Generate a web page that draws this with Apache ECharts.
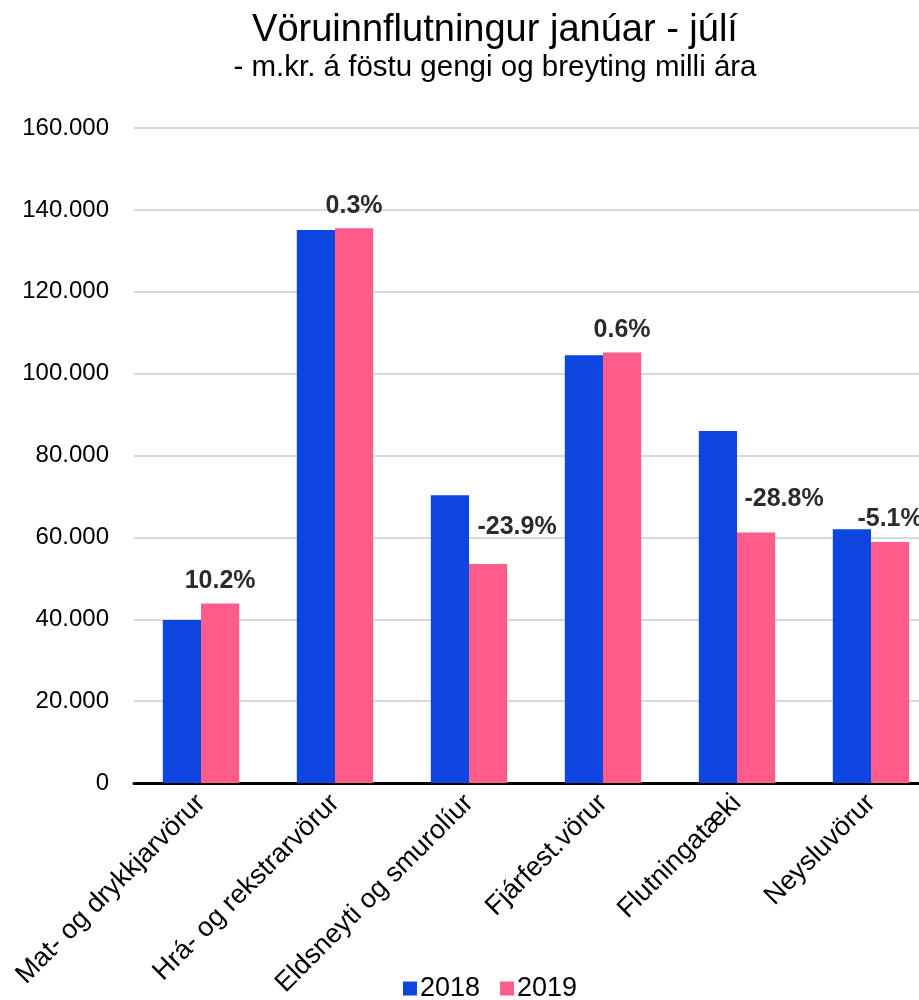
<!DOCTYPE html>
<html>
<head>
<meta charset="utf-8">
<script src="https://cdn.jsdelivr.net/npm/echarts@6/dist/echarts.min.js"></script>
<style>
  html, body { margin: 0; padding: 0; background: #fff; overflow: hidden; }
  /* the plot runs past the right edge of the page, so the canvas is wider than the window */
  #chart { width: 990px; height: 1000px; }
</style>
</head>
<body>
<div id="chart"></div>
<script>
// Vöruinnflutningur janúar - júlí, m.kr. á föstu gengi
const categories = ['Mat- og drykkjarvörur', 'Hrá- og rekstrarvörur', 'Eldsneyti og smurolíur',
                    'Fjárfest.vörur', 'Flutningatæki', 'Neysluvörur'];
const values2018 = [39800, 135100, 70300, 104500, 86000, 62000];
const values2019 = [43850, 135500, 53500, 105150, 61200, 58850];
const changeLabels = ['10.2%', '0.3%', '-23.9%', '0.6%', '-28.8%', '-5.1%'];
const yTicks = { min: 0, max: 160000, interval: 20000 };

// label nudges so the change labels clear the neighbouring 2018 bar
const labelNudge = { 2: [29, -14], 4: [28, -11] };

const FONT = '"Liberation Sans", Arial, sans-serif';

const chart = echarts.init(document.getElementById('chart'), null, { renderer: 'canvas' });

chart.setOption({
  backgroundColor: '#ffffff',
  animation: false,
  title: {
    text: 'Vöruinnflutningur janúar - júlí',
    subtext: '- m.kr. á föstu gengi og breyting milli ára',
    left: 'center',
    top: 7,
    itemGap: 3,
    textStyle: { fontFamily: FONT, fontSize: 38, fontWeight: 'normal', color: '#000' },
    subtextStyle: { fontFamily: FONT, fontSize: 29.5, color: '#000' }
  },
  legend: {
    data: ['2018', '2019'],
    left: 398,
    top: 970,
    itemWidth: 14,
    itemHeight: 14,
    itemGap: 20,
    icon: 'rect',
    textStyle: { fontFamily: FONT, fontSize: 27, color: '#000', padding: [0, 0, 0, -2] }
  },
  grid: { left: 134, top: 128, width: 804, height: 655 },
  xAxis: {
    type: 'category',
    data: categories,
    axisLine: { show: true, lineStyle: { color: '#000', width: 3 } },
    axisTick: { show: false },
    axisLabel: {
      rotate: 45,
      interval: 0,
      margin: 16,
      fontFamily: FONT,
      fontSize: 27,
      color: '#000'
    }
  },
  yAxis: {
    type: 'value',
    min: yTicks.min,
    max: yTicks.max,
    interval: yTicks.interval,
    axisLine: { show: false },
    axisTick: { show: false },
    splitLine: { lineStyle: { color: '#d9d9d9', width: 2 } },
    axisLabel: {
      margin: 25,
      fontFamily: FONT,
      fontSize: 24,
      color: '#000',
      formatter: v => v.toLocaleString('de-DE')
    }
  },
  series: [
    {
      name: '2018',
      type: 'bar',
      data: values2018,
      barGap: '0%',
      barCategoryGap: '43%',
      itemStyle: { color: '#0d45e0' }
    },
    {
      name: '2019',
      type: 'bar',
      data: values2019.map((v, i) => {
        const item = { value: v };
        if (labelNudge[i]) item.label = { offset: labelNudge[i] };
        return item;
      }),
      barGap: '0%',
      barCategoryGap: '43%',
      itemStyle: { color: '#ff5c8a' },
      label: {
        show: true,
        position: 'top',
        distance: 10,
        fontFamily: FONT,
        fontSize: 25,
        fontWeight: 'bold',
        color: '#2b2b2b',
        formatter: p => changeLabels[p.dataIndex]
      }
    }
  ]
});
</script>
</body>
</html>
